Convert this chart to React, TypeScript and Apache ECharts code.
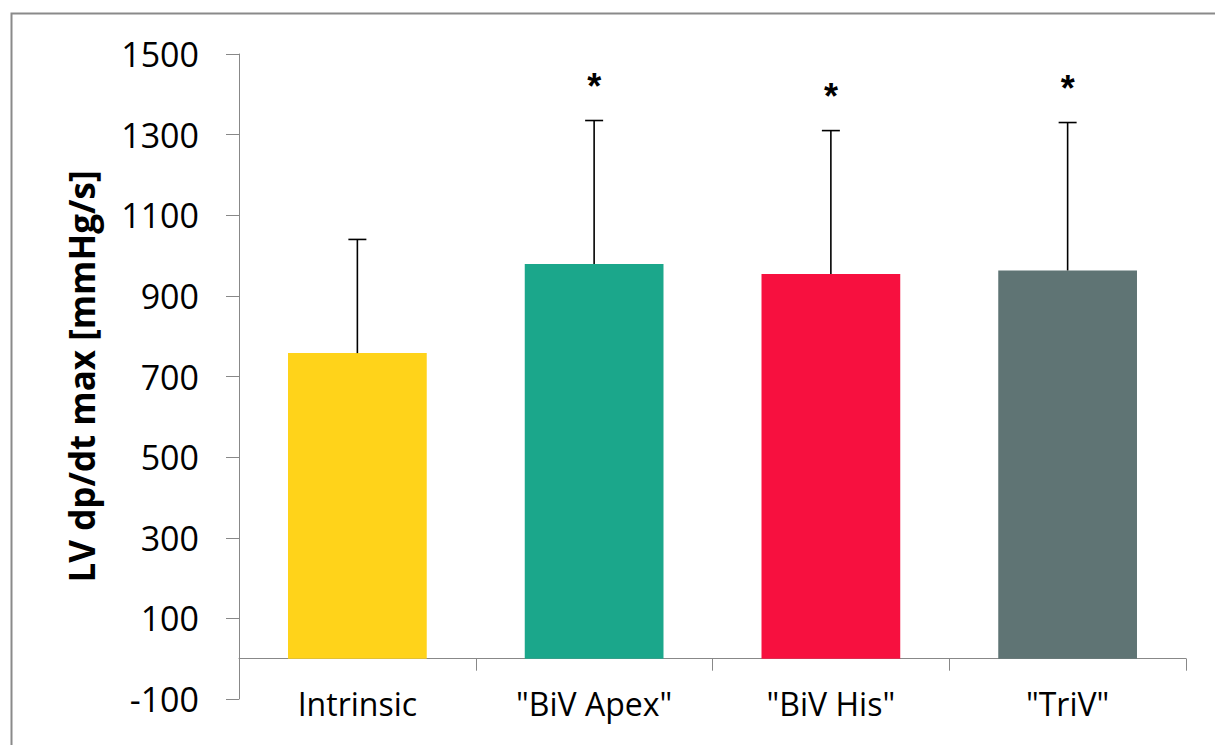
import React, { useEffect, useRef } from "react";
import * as echarts from "echarts";

const categories = ["Intrinsic", "\"BiV Apex\"", "\"BiV His\"", "\"TriV\""];
const means = [758, 979, 954, 963];
const sds = [282, 356, 356, 367];
const significant = [false, true, true, true];
const barColors = ["#FFD31A", "#1BA78B", "#F7103F", "#5F7474"];
const yTicksMin = -100;
const yTicksMax = 1500;
const yTickStep = 200;

export default function App() {
  const ref = useRef<HTMLDivElement>(null);
  useEffect(() => {
    if (!ref.current) return;
    const chart = echarts.init(ref.current, null, { renderer: "svg" });
    const font = "'Open Sans', sans-serif";
    chart.setOption({
      animation: false,
      backgroundColor: "#ffffff",
      graphic: [
        {
          type: "rect",
          left: 9,
          top: 11,
          shape: { width: 1400, height: 900 },
          style: { fill: "none", stroke: "#8a8a8a", lineWidth: 2 },
          silent: true,
        },
      ],
      grid: { left: 239, right: 29, top: 54, bottom: 46, containLabel: false, outerBoundsMode: "none" },
      xAxis: {
        type: "category",
        data: categories,
        axisLine: { onZero: true, lineStyle: { color: "#888888", width: 1 } },
        axisTick: { show: true, length: 12, lineStyle: { color: "#888888" } },
        axisLabel: { color: "#000", fontFamily: font, fontSize: 32, margin: -12 },
      },
      yAxis: {
        type: "value",
        min: yTicksMin,
        max: yTicksMax,
        interval: yTickStep,
        name: "LV dp/dt max [mmHg/s]",
        nameLocation: "middle",
        nameGap: 140,
        nameTextStyle: { color: "#000", fontFamily: font, fontSize: 35, fontWeight: "bold" },
        splitLine: { show: false },
        axisLine: { show: true, lineStyle: { color: "#888888", width: 1 } },
        axisTick: { show: true, length: 13, lineStyle: { color: "#888888" } },
        axisLabel: {
          color: "#000",
          fontFamily: font,
          fontSize: 34,
          margin: 40,
          formatter: (v: number) => String(v),
        },
      },
      series: [
        {
          type: "bar",
          data: means.map((v, i) => ({ value: v, itemStyle: { color: barColors[i] } })),
          barWidth: "58.6%",
        },
        {
          type: "custom",
          data: means.map((m, i) => [i, m, sds[i], significant[i] ? 1 : 0]),
          encode: { x: 0, y: 1 },
          z: 5,
          renderItem: (params: any, api: any) => {
            const i = api.value(0);
            const m = api.value(1);
            const sd = api.value(2);
            const sig = api.value(3);
            const base = api.coord([i, m]);
            const top = api.coord([i, m + sd]);
            const half = 9;
            const children: any[] = [
              {
                type: "line",
                shape: { x1: base[0], y1: base[1], x2: top[0], y2: top[1] },
                style: { stroke: "#000", lineWidth: 1.6 },
              },
              {
                type: "line",
                shape: { x1: top[0] - half, y1: top[1], x2: top[0] + half, y2: top[1] },
                style: { stroke: "#000", lineWidth: 1.6 },
              },
            ];
            if (sig) {
              children.push({
                type: "text",
                x: top[0],
                y: top[1] - 34,
                style: {
                  text: "*",
                  fill: "#000",
                  font: "bold 36px 'Liberation Sans', sans-serif",
                  textAlign: "center",
                  textVerticalAlign: "middle",
                },
              });
            }
            return { type: "group", children };
          },
        },
      ],
    });
    return () => chart.dispose();
  }, []);
  return (
    <div
      ref={ref}
      style={{ position: "fixed", left: 0, top: 0, width: 1215, height: 745 }}
    />
  );
}
